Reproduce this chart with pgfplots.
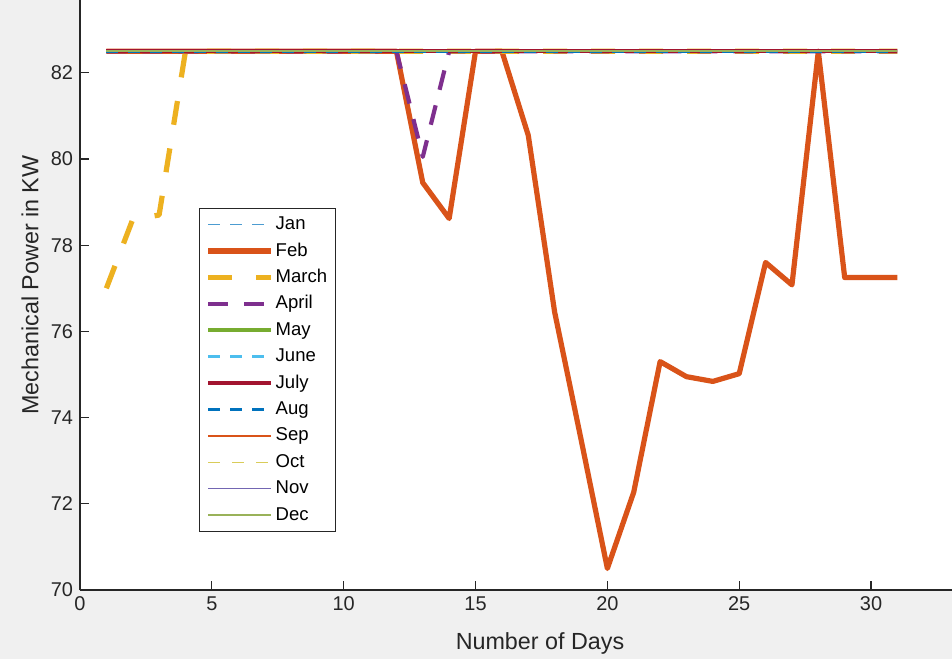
\documentclass[border=0pt]{standalone}
\usepackage{fontspec}
\setmainfont{Liberation Sans}
\usepackage{pgfplots}
\usepackage{pgfplotstable}
\pgfplotsset{compat=1.18}
\definecolor{mblue}{rgb}{0,0.447,0.741}
\definecolor{mred}{rgb}{0.85,0.325,0.098}
\definecolor{myel}{rgb}{0.929,0.694,0.125}
\definecolor{mpur}{rgb}{0.494,0.184,0.556}
\definecolor{mgrn}{rgb}{0.466,0.674,0.188}
\definecolor{mcyan}{rgb}{0.301,0.745,0.933}
\definecolor{mdred}{rgb}{0.635,0.078,0.184}
\definecolor{moct}{rgb}{0.85,0.80,0.35}
\definecolor{mnov}{rgb}{0.45,0.40,0.70}
\definecolor{mdec}{rgb}{0.60,0.70,0.35}
\definecolor{axgray}{rgb}{0.15,0.15,0.15}
\definecolor{bggray}{rgb}{0.94,0.94,0.94}
\pgfplotstableread{
d  jan  feb   mar   apr   may  jun  jul  aug  sep  oct  nov  dec
1  82.5 82.5  77.0  82.5  82.5 82.5 82.5 82.5 82.5 82.5 82.5 82.5
2  82.5 82.5  78.6  82.5  82.5 82.5 82.5 82.5 82.5 82.5 82.5 82.5
3  82.5 82.5  78.7  82.5  82.5 82.5 82.5 82.5 82.5 82.5 82.5 82.5
4  82.5 82.5  82.5  82.5  82.5 82.5 82.5 82.5 82.5 82.5 82.5 82.5
5  82.5 82.5  82.5  82.5  82.5 82.5 82.5 82.5 82.5 82.5 82.5 82.5
6  82.5 82.5  82.5  82.5  82.5 82.5 82.5 82.5 82.5 82.5 82.5 82.5
7  82.5 82.5  82.5  82.5  82.5 82.5 82.5 82.5 82.5 82.5 82.5 82.5
8  82.5 82.5  82.5  82.5  82.5 82.5 82.5 82.5 82.5 82.5 82.5 82.5
9  82.5 82.5  82.5  82.5  82.5 82.5 82.5 82.5 82.5 82.5 82.5 82.5
10 82.5 82.5  82.5  82.5  82.5 82.5 82.5 82.5 82.5 82.5 82.5 82.5
11 82.5 82.5  82.5  82.5  82.5 82.5 82.5 82.5 82.5 82.5 82.5 82.5
12 82.5 82.5  82.5  82.5  82.5 82.5 82.5 82.5 82.5 82.5 82.5 82.5
13 82.5 79.45 82.5  80.05 82.5 82.5 82.5 82.5 82.5 82.5 82.5 82.5
14 82.5 78.62 82.5  82.5  82.5 82.5 82.5 82.5 82.5 82.5 82.5 82.5
15 82.5 82.5  82.5  82.5  82.5 82.5 82.5 82.5 82.5 82.5 82.5 82.5
16 82.5 82.5  82.5  82.5  82.5 82.5 82.5 82.5 82.5 82.5 82.5 82.5
17 82.5 80.55 82.5  82.5  82.5 82.5 82.5 82.5 82.5 82.5 82.5 82.5
18 82.5 76.45 82.5  82.5  82.5 82.5 82.5 82.5 82.5 82.5 82.5 82.5
19 82.5 73.5  82.5  82.5  82.5 82.5 82.5 82.5 82.5 82.5 82.5 82.5
20 82.5 70.5  82.5  82.5  82.5 82.5 82.5 82.5 82.5 82.5 82.5 82.5
21 82.5 72.27 82.5  82.5  82.5 82.5 82.5 82.5 82.5 82.5 82.5 82.5
22 82.5 75.3  82.5  82.5  82.5 82.5 82.5 82.5 82.5 82.5 82.5 82.5
23 82.5 74.95 82.5  82.5  82.5 82.5 82.5 82.5 82.5 82.5 82.5 82.5
24 82.5 74.84 82.5  82.5  82.5 82.5 82.5 82.5 82.5 82.5 82.5 82.5
25 82.5 75.02 82.5  82.5  82.5 82.5 82.5 82.5 82.5 82.5 82.5 82.5
26 82.5 77.6  82.5  82.5  82.5 82.5 82.5 82.5 82.5 82.5 82.5 82.5
27 82.5 77.08 82.5  82.5  82.5 82.5 82.5 82.5 82.5 82.5 82.5 82.5
28 82.5 82.5  82.5  82.5  82.5 82.5 82.5 82.5 82.5 82.5 82.5 82.5
29 82.5 77.25 82.5  82.5  82.5 82.5 82.5 82.5 82.5 82.5 82.5 82.5
30 82.5 77.25 82.5  82.5  82.5 82.5 82.5 82.5 82.5 82.5 82.5 82.5
31 82.5 77.25 82.5  82.5  82.5 82.5 82.5 82.5 82.5 82.5 82.5 82.5
}\data
\begin{document}
\begin{tikzpicture}
\fill[bggray] (-40bp,-34.5bp) rectangle (436bp,295bp);
\begin{axis}[
  at={(0,0)}, anchor=south west,
  scale only axis, width=436bp, height=295bp,
  xmin=0, xmax=33.07, ymin=70, ymax=83.69,
  axis x line*=bottom, axis y line*=left,
  axis line style={draw=axgray, line width=0.6bp},
  xtick={0,5,...,30}, ytick={70,72,...,82},
  tick align=inside, major tick length=4.5bp,
  tick style={draw=axgray, line width=0.6bp},
  ticklabel style={font=\fontsize{10}{12}\selectfont, text=axgray},
  /pgf/number format/assume math mode=true,
  xlabel={Number of Days}, ylabel={Mechanical Power in KW},
  label style={font=\fontsize{11.7}{14}\selectfont, text=axgray},
  xlabel style={at={([yshift=-26.5bp]axis description cs:0.5275,0)}, anchor=center},
  ylabel style={at={([xshift=-25bp]axis description cs:0,0.517)}, anchor=center},
  axis background/.style={fill=white},
  legend image code/.code={\draw[#1] (0bp,0bp) -- (31.5bp,0bp);},
  legend cell align=left,
  legend style={at={(axis description cs:0.1365,0.6475)}, anchor=north west,
    draw=axgray, line width=0.5bp, fill=white, inner xsep=3bp, inner ysep=1.5bp,
    row sep=0pt, font=\fontsize{9.3}{11}\selectfont,
    nodes={inner xsep=1bp, inner ysep=2.1bp, text height=7bp, text depth=2bp}},
  every axis plot/.append style={no marks, line join=round},
]
\addplot[color=mblue!70!white, line width=0.7bp, dash pattern=on 6bp off 5bp] table[x=d,y=jan]{\data};
\addlegendentry{Jan}
\addplot[color=mred, line width=2.6bp] table[x=d,y=feb]{\data};
\addlegendentry{Feb}
\addplot[color=myel, line width=2.6bp, dash pattern=on 12bp off 12bp] table[x=d,y=mar]{\data};
\addlegendentry{March}
\addplot[color=mpur, line width=2.1bp, dash pattern=on 10bp off 8bp] table[x=d,y=apr]{\data};
\addlegendentry{April}
\addplot[color=mgrn, line width=1.8bp] table[x=d,y=may]{\data};
\addlegendentry{May}
\addplot[color=mcyan, line width=1.3bp, dash pattern=on 6bp off 5bp] table[x=d,y=jun]{\data};
\addlegendentry{June}
\addplot[color=mdred, line width=1.8bp] table[x=d,y=jul]{\data};
\addlegendentry{July}
\addplot[color=mblue, line width=1.3bp, dash pattern=on 6bp off 5bp] table[x=d,y=aug]{\data};
\addlegendentry{Aug}
\addplot[color=mred, line width=1.1bp] table[x=d,y=sep]{\data};
\addlegendentry{Sep}
\addplot[color=moct, line width=0.7bp, dash pattern=on 6bp off 6bp] table[x=d,y=oct]{\data};
\addlegendentry{Oct}
\addplot[color=mnov, line width=0.6bp] table[x=d,y=nov]{\data};
\addlegendentry{Nov}
\addplot[color=mdec, line width=0.8bp] table[x=d,y=dec]{\data};
\addlegendentry{Dec}
\end{axis}
\pgfresetboundingbox
\useasboundingbox (-40bp,-34.5bp) rectangle (436bp,295bp);
\end{tikzpicture}
\end{document}
